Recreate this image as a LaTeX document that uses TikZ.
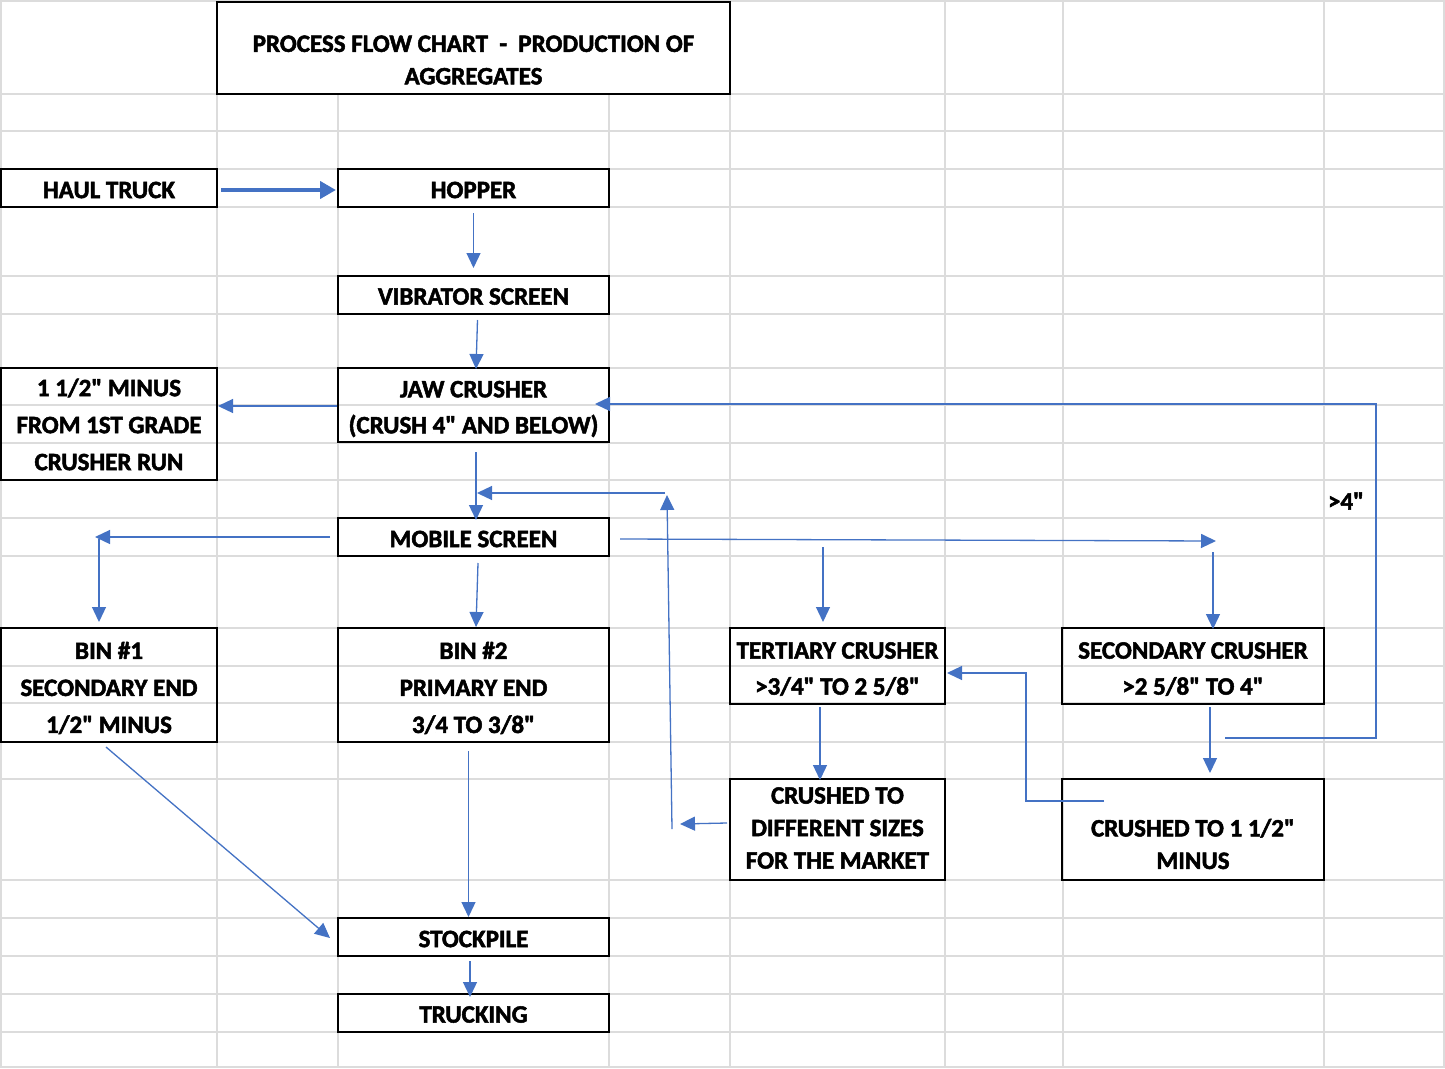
\documentclass[tikz,border=0pt]{standalone}
\usepackage{fontspec}
\setmainfont{Carlito}[Ligatures=TeXOff, BoldFeatures={FakeBold=2}]
\usetikzlibrary{arrows.meta,calc}
\definecolor{arrowblue}{HTML}{4472C4}
\definecolor{gridgray}{HTML}{DCDCDC}
\newcommand{\inchmark}{\symbol{34}}
\begin{document}
\begin{tikzpicture}[x=1pt,y=-1pt,
  gridline/.style={draw=gridgray, line width=1.8pt},
  box/.style={draw=black, line width=2.8pt, inner sep=0pt, outer sep=0pt},
  txt/.style={inner sep=0pt, outer sep=0pt, align=center,
    font=\bfseries\fontsize{25}{37}\selectfont},
  txtmid/.style={txt, font=\bfseries\fontsize{25}{36}\selectfont},
  txtnarrow/.style={txt, font=\bfseries\fontsize{25}{32.5}\selectfont},
  flow/.style={draw=arrowblue, line width=1.3pt, -{Triangle[length=15pt,width=14pt]}},
  thickflow/.style={draw=arrowblue, line width=4.5pt, -{Triangle[length=16pt,width=17pt]}}]
\useasboundingbox (0,0) rectangle (1445,1068);
\fill[white] (0,0) rectangle (1445,1068);
% spreadsheet grid
\foreach \x in {1,217,338,609,730,945,1063,1324,1444}
  \draw[gridline] (\x,0) -- (\x,1068);
\foreach \y in {1,94,131,169,207,276,314,368,405,443,480,518,556,628,666,703,742,779,880,918,956,994,1032,1067}
  \draw[gridline] (0,\y) -- (1445,\y);
% boxes
\node[box, fill=white, minimum width=513pt, minimum height=92pt,
  label={[txtnarrow, yshift=-12pt]center:{PROCESS FLOW CHART\ \ -\ \ PRODUCTION OF\\AGGREGATES}}] (title) at (473.5,48) {};
\node[box, minimum width=216pt, minimum height=38pt,
  label={[txt, yshift=-2pt]center:HAUL TRUCK}] (haul) at (109,188) {};
\node[box, minimum width=271pt, minimum height=38pt,
  label={[txt, yshift=-2pt]center:HOPPER}] (hopper) at (473.5,188) {};
\node[box, minimum width=271pt, minimum height=38pt,
  label={[txt, yshift=-1.5pt]center:VIBRATOR SCREEN}] (vib) at (473.5,295) {};
\node[box, minimum width=216pt, minimum height=112pt,
  label={[txt, yshift=-0.5pt]center:{1 1/2\inchmark{} MINUS\\FROM 1ST GRADE\\CRUSHER RUN}}] (minus) at (109,424) {};
\node[box, minimum width=271pt, minimum height=74pt,
  label={[txtmid, yshift=-4pt]center:{JAW CRUSHER\\(CRUSH 4\inchmark{} AND BELOW)}}] (jaw) at (473.5,405) {};
\node[box, minimum width=271pt, minimum height=38pt,
  label={[txt, yshift=-2pt]center:MOBILE SCREEN}] (mobile) at (473.5,537) {};
\node[box, minimum width=216pt, minimum height=114pt,
  label={[txt, yshift=-3pt]center:{BIN \#1\\SECONDARY END\\1/2\inchmark{} MINUS}}] (bin1) at (109,685) {};
\node[box, minimum width=271pt, minimum height=114pt,
  label={[txt, yshift=-3pt]center:{BIN \#2\\PRIMARY END\\3/4 TO 3/8\inchmark}}] (bin2) at (473.5,685) {};
\node[box, minimum width=215pt, minimum height=76pt,
  label={[txtmid, yshift=-3pt]center:{TERTIARY CRUSHER\\>3/4\inchmark{} TO 2 5/8\inchmark}}] (tert) at (837.5,666) {};
\node[box, minimum width=262pt, minimum height=76pt,
  label={[txtmid, yshift=-3pt]center:{SECONDARY CRUSHER\\>2 5/8\inchmark{} TO 4\inchmark}}] (sec) at (1193,666) {};
\node[box, minimum width=215pt, minimum height=101pt,
  label={[txtnarrow, yshift=1.5pt]center:{CRUSHED TO\\DIFFERENT SIZES\\FOR THE MARKET}}] (mkt) at (837.5,829.5) {};
\node[box, minimum width=262pt, minimum height=101pt,
  label={[txtnarrow, yshift=-14.5pt]center:{CRUSHED TO 1 1/2\inchmark\\MINUS}}] (cr15) at (1193,829.5) {};
\node[box, minimum width=271pt, minimum height=38pt,
  label={[txt, yshift=-2pt]center:STOCKPILE}] (stock) at (473.5,937) {};
\node[box, minimum width=271pt, minimum height=38pt,
  label={[txt, yshift=-1.5pt]center:TRUCKING}] (truck) at (473.5,1013) {};
\node[txt] (gt4) at (1346,501) {>4\inchmark};
% connectors
\draw[thickflow] ($(haul.east)+(4,2)$) -- ($(hopper.west)+(-2,2)$);
\draw[flow] ($(hopper.south)+(0,6)$) -- ($(vib.north)+(0,-8)$);
\draw[flow] ($(vib.south)+(4,6)$) -- ($(jaw.north)+(2.5,1)$);
\draw[flow] ($(jaw.west)+(-1,1)$) -- ($(minus.east)+(1,-18)$);
\draw[flow] ($(jaw.south)+(2.5,10)$) -- ($(mobile.north)+(2.5,2)$);
\draw[flow] ($(mkt.west)+(-58,-0.5)$) -- ($(mobile.north east)+(58,-23)$);
\draw[flow] ($(mobile.north east)+(56,-25)$) -- ($(mobile.north)+(3.5,-25)$);
\draw[flow] ($(mkt.west)+(-3,-6.5)$) -- ($(mkt.west)+(-50,-5.5)$);
\draw[flow] ($(mobile.west)+(-8,0)$) -- ($(bin1.north)+(-14,-91)$);
\draw[flow] ($(bin1.north)+(-10,-89)$) -- ($(bin1.north)+(-10,-6)$);
\draw[flow] ($(mobile.south)+(4.5,7)$) -- ($(bin2.north)+(2.5,-1)$);
\draw[flow] ($(mobile.east)+(11,2)$) -- ($(sec.north)+(23,-87)$);
\draw[flow] ($(tert.north)+(-14.5,-81)$) -- ($(tert.north)+(-14.5,-6)$);
\draw[flow] ($(sec.north)+(20,-76)$) -- ($(sec.north)+(20,1)$);
\draw[flow] ($(tert.south)+(-17.5,3)$) -- ($(mkt.north)+(-17.5,1)$);
\draw[flow] ($(sec.south)+(17,3)$) -- ($(cr15.north)+(17,-6)$);
\draw[flow] ($(sec.south)+(32,34)$) -- ++(151,0) |- ($(jaw.east)+(-14,-1)$);
\draw[flow] ($(cr15.north west)+(42,22)$) -- ++(-78,0) |- ($(tert.east)+(2,7)$);
\draw[flow] ($(bin1.south)+(-3,5)$) -- ($(stock.west)+(-8,1)$);
\draw[flow] ($(bin2.south)+(-5,9)$) -- ($(stock.north)+(-5,-1)$);
\draw[flow] ($(stock.south)+(-3.5,5)$) -- ($(truck.north)+(-3.5,3)$);
\end{tikzpicture}
\end{document}
